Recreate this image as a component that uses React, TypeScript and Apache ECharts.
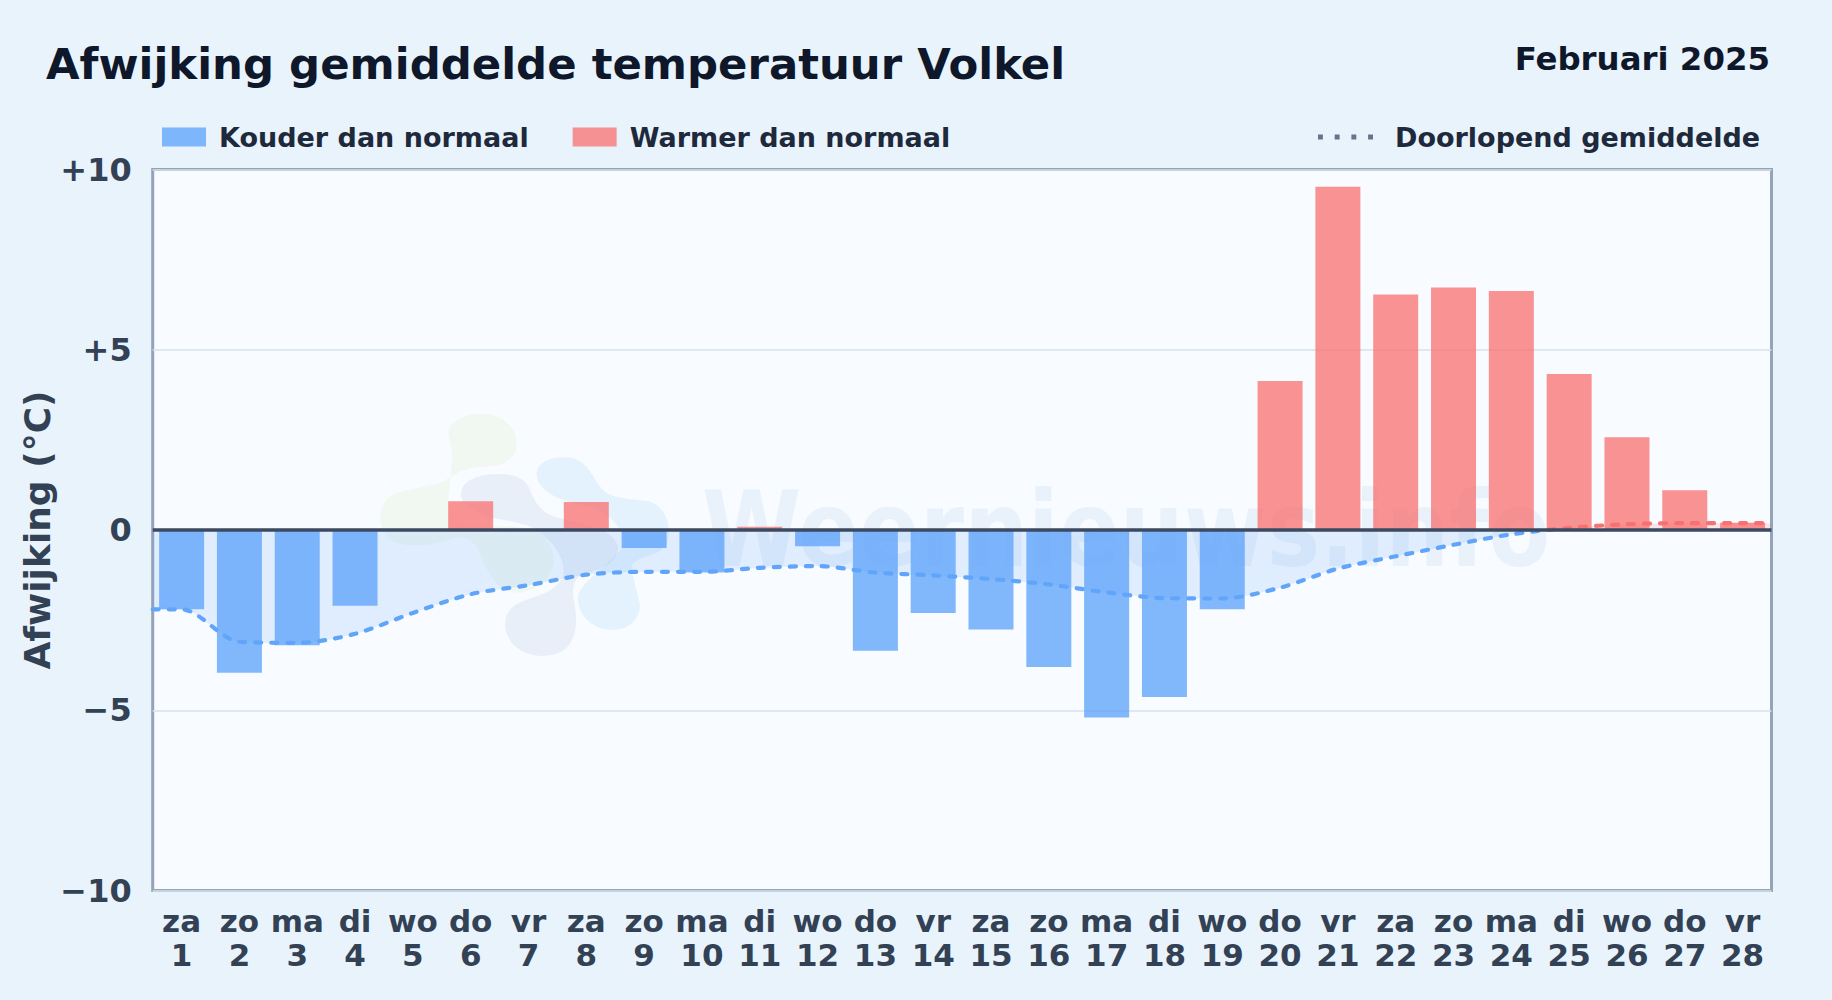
import React, { useEffect, useRef } from "react";
import * as echarts from "echarts";

const days = ["1","2","3","4","5","6","7","8","9","10","11","12","13","14","15","16","17","18","19","20","21","22","23","24","25","26","27","28"];
const weekdays = ["za","zo","ma","di","wo","do","vr","za","zo","ma","di","wo","do","vr","za","zo","ma","di","wo","do","vr","za","zo","ma","di","wo","do","vr"];
const coldValues = [-2.2,-3.96,-3.2,-2.1,null,null,null,null,-0.5,-1.18,null,-0.45,-3.35,-2.3,-2.76,-3.8,-5.2,-4.63,-2.2,null,null,null,null,null,null,null,null,null];
const warmValues = [null,null,null,null,null,0.8,null,0.78,null,null,0.09,null,null,null,null,null,null,null,null,4.13,9.52,6.53,6.73,6.63,4.33,2.57,1.1,0.2];
const trendPositions = [0.5,1,2,3,4,5,6,7,8,9,10,11,12,13,14,15,16,17,18,19,20,21,22,23,24,25,26,27,28,28.5];
const trendValues = [-2.2,-2.2,-3.1,-3.13,-2.88,-2.3,-1.78,-1.53,-1.24,-1.16,-1.16,-1.05,-1.0,-1.18,-1.26,-1.36,-1.51,-1.73,-1.89,-1.9,-1.6,-1.07,-0.73,-0.41,-0.12,0.06,0.16,0.19,0.19,0.19];
const yTicks: Record<string, string> = { "10": "+10", "5": "+5", "0": "0", "-5": "\u22125", "-10": "\u221210" };

const COLD = "Kouder dan normaal";
const WARM = "Warmer dan normaal";
const TREND = "Doorlopend gemiddelde";
const FONT = "'DejaVu Sans', sans-serif";

echarts.graphic.registerShape("blobGreen", echarts.graphic.extendPath("M235 100 C240 55 300 38 350 42 C410 48 445 95 440 140 C435 185 390 200 340 200 C280 205 250 225 220 245 C180 262 100 265 60 290 C25 315 20 370 50 410 C80 440 150 445 220 425 C260 410 290 400 320 440 C345 500 370 565 430 578 C490 585 550 540 552 480 C550 430 520 395 470 385 C420 375 300 380 260 370 C235 340 230 300 240 260 C240 220 250 180 245 150 Z", {}));
echarts.graphic.registerShape("blobNavy", echarts.graphic.extendPath("M275 270 C285 235 340 222 390 222 C440 222 470 240 480 270 C495 310 520 345 570 355 C640 370 730 385 745 440 C750 480 700 510 650 520 C610 530 610 560 610 590 C620 640 630 700 590 745 C550 780 470 775 430 735 C400 700 395 650 430 620 C470 590 550 590 580 530 C590 470 540 410 480 380 C430 360 370 360 330 340 C290 320 265 300 275 270 Z", {}));
echarts.graphic.registerShape("blobBlue", echarts.graphic.extendPath("M500 220 C505 180 560 165 610 175 C660 190 670 240 700 270 C730 300 790 295 840 305 C885 320 905 370 895 420 C880 470 830 460 790 490 C780 505 800 570 810 610 C815 660 770 695 720 690 C660 685 620 640 625 590 C635 540 740 480 760 440 C770 390 720 340 660 320 C590 310 500 280 500 220 Z", {}));

export default function App() {
  const ref = useRef<HTMLDivElement>(null);
  useEffect(() => {
    document.body.style.margin = "0";
    const chart = echarts.init(ref.current!, null, { renderer: "svg" });
    chart.setOption({
      animation: false,
      backgroundColor: "#e8f3fc",
      textStyle: { fontFamily: FONT },
      title: [
        { text: "Afwijking gemiddelde temperatuur Volkel", left: 46, top: 42, padding: 0, textStyle: { fontFamily: FONT, fontSize: 43.4, fontWeight: "bold", color: "#0f172a" } },
        { text: "Februari 2025", right: 62, top: 43, padding: 0, textStyle: { fontFamily: FONT, fontSize: 32.4, fontWeight: "bold", color: "#0f172a" } },
      ],
      legend: [
        { data: [{ name: COLD, icon: "rect" }, { name: WARM, icon: "rect" }], left: 162, top: 123.5, padding: 0, itemWidth: 44, itemHeight: 19, itemGap: 44, selectedMode: false, textStyle: { fontFamily: FONT, fontSize: 27, fontWeight: "bold", color: "#1e293b", padding: [0, 0, 0, 8] } },
        { data: [{ name: TREND, icon: "path://M0 0h5v5H0z M17 0h5v5h-5z M34 0h5v5h-5z M51 0h5v5h-5z", itemStyle: { color: "#64748b" } }], left: 1318, top: 123.5, padding: 0, itemWidth: 55, itemHeight: 5, selectedMode: false, textStyle: { fontFamily: FONT, fontSize: 27, fontWeight: "bold", color: "#1e293b", padding: [0, 0, 0, 17] } },
      ],
      grid: { left: 152.7, top: 169.5, width: 1618.8, height: 721, show: true, backgroundColor: "#f8fbff", borderColor: "#94a3b8", borderWidth: 3 },
      graphic: [
        { type: "blobGreen", x: 370, y: 400, scaleX: 1 / 3, scaleY: 1 / 3, z: 1, silent: true, style: { fill: "rgba(132,204,22,0.055)" } },
        { type: "blobNavy", x: 370, y: 400, scaleX: 1 / 3, scaleY: 1 / 3, z: 1, silent: true, style: { fill: "rgba(30,90,150,0.07)" } },
        { type: "blobBlue", x: 370, y: 400, scaleX: 1 / 3, scaleY: 1 / 3, z: 1, silent: true, style: { fill: "rgba(56,170,248,0.1)" } },
        { type: "text", x: 702, y: 582, scaleX: 0.856, z: 1, silent: true, style: { text: "Weernieuws.info", fontFamily: FONT, fontWeight: "bold", fontSize: 105, fill: "rgba(30,110,180,0.065)", verticalAlign: "bottom" } },
      ],
      xAxis: [
        {
          type: "category", data: days, boundaryGap: true, position: "bottom",
          axisLine: { show: false }, axisTick: { show: false }, splitLine: { show: false },
          axisLabel: {
            interval: 0, margin: 13, fontFamily: FONT, fontSize: 31, fontWeight: "bold", color: "#334155", lineHeight: 34,
            formatter: (v: string, i: number) => `${weekdays[i]}\n${v}`,
          },
        },
        { type: "value", min: 0.5, max: 28.5, show: false },
      ],
      yAxis: {
        type: "value", min: -10, max: 10, interval: 5,
        name: "Afwijking (\u00b0C)", nameLocation: "middle", nameGap: 97, nameRotate: 90, nameMoveOverlap: false,
        nameTextStyle: { fontFamily: FONT, fontSize: 36, fontWeight: "bold", color: "#334155" },
        axisLine: { show: false }, axisTick: { show: false },
        splitLine: { show: true, lineStyle: { color: "#d9e2ea", width: 1.5 } },
        axisLabel: { margin: 21, fontFamily: FONT, fontSize: 32, fontWeight: "bold", color: "#334155", formatter: (v: number) => yTicks[String(v)] ?? String(v) },
      },
      visualMap: {
        show: false, type: "piecewise", seriesIndex: 2, dimension: 1,
        pieces: [{ min: -10, max: 0, color: "#60a5fa" }, { min: 0, max: 10, color: "#f87171" }],
      },
      series: [
        { name: COLD, type: "bar", data: coldValues, barWidth: 45, barGap: "-100%", itemStyle: { color: "rgba(96,165,250,0.79)" } },
        { name: WARM, type: "bar", data: warmValues, barWidth: 45, barGap: "-100%", itemStyle: { color: "rgba(248,113,113,0.76)" } },
        {
          name: TREND, type: "line", xAxisIndex: 1, smooth: 0.3, symbol: "none", z: 4,
          data: trendPositions.map((p, i) => [p, trendValues[i]]),
          lineStyle: { width: 4.2, type: [6, 10], cap: "round" },
          areaStyle: { opacity: 0.16 },
          markLine: {
            silent: true, symbol: "none", label: { show: false },
            lineStyle: { color: "#3b4a60", width: 3.6, type: "solid" },
            data: [{ yAxis: 0 }],
          },
        },
      ],
    });
    return () => chart.dispose();
  }, []);
  return <div ref={ref} style={{ width: 1832, height: 1000 }} />;
}
